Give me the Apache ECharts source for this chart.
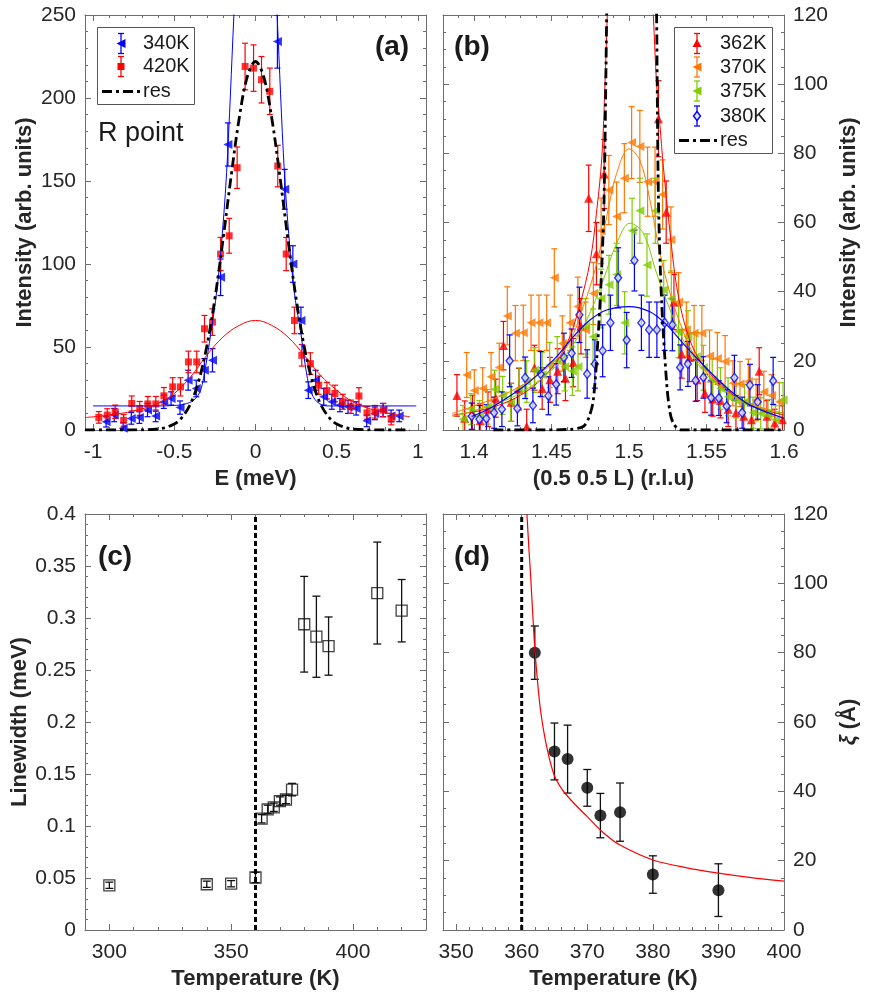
<!DOCTYPE html>
<html><head><meta charset="utf-8">
<script src="https://cdn.jsdelivr.net/npm/echarts@6/dist/echarts.min.js"></script>
<style>html,body{margin:0;padding:0;background:#fff}#c{width:869px;height:1000px}</style>
</head><body><div id="c"></div><script>
// ---------------- Panel (a): R point energy scans ----------------
const aRedE = [-0.965,-0.913,-0.864,-0.812,-0.762,-0.713,-0.663,-0.614,-0.564,-0.51,-0.462,-0.413,-0.362,-0.314,-0.265,-0.215,-0.162,-0.113,-0.064,-0.012,0.037,0.088,0.137,0.189,0.24,0.285,0.338,0.389,0.44,0.489,0.538,0.588,0.637,0.687,0.736,0.787,0.836];
const aRedI = [7.6,9,11,5.8,16,13,15.7,15.7,20.6,26,26,41,41,61,65,106,117,158,219,218,211,204,159,106,66,45,40,27,23.7,22,17,14,20.5,10.3,11,12,6.6];
const aRedErr = [3.5,3.8,4,3.5,4.5,4.2,4.5,4.5,5,5.5,5.5,6.5,6.5,8,8,10,10.5,12.5,14,14,14,14,12.5,10,8,6.5,6.5,5.5,5,5,4.5,4,5,3.8,3.8,4,3.5];
const aBlueE = [-0.92,-0.87,-0.815,-0.765,-0.715,-0.665,-0.615,-0.565,-0.52,-0.465,-0.415,-0.365,-0.315,-0.265,-0.215,-0.17,-0.12,-0.07,-0.02,0.03,0.085,0.135,0.18,0.23,0.28,0.325,0.37,0.42,0.47,0.52,0.57,0.62,0.685,0.735,0.785,0.835,0.885];
const aBlueI = [5,9,1,7,7.5,12,8.5,17,19,13.5,30,25,36,42,92,172,300,380,420,410,360,234,145,100,66,24,30,20,17,15,14,13,5.5,10,12,8.5,8.5];
const aBlueErr = [3.2,4,3.5,3.5,3.5,4,3.5,4,4,4,6,5,7,7,11,13,16,18,19,19,18,16,12,11,8,5,6,5,4.5,4,4,4,3.5,3.8,4,3.5,3.5];
const aFitRedE = [-1.05,-0.9,-0.75,-0.6,-0.5,-0.4,-0.3,-0.2,-0.1,0,0.1,0.2,0.3,0.4,0.5,0.6,0.75,0.95];
const aFitRedI = [7.5,9,11.5,16,22,32,45,56,63,66,63,56,45,33,24,17,11.5,8];
const aFitBlueE = [-1.0,-0.6,-0.5,-0.44,-0.38,-0.338,-0.308,-0.277,-0.246,-0.215,-0.178,-0.133,-0.1,-0.05,0,0.05,0.1,0.133,0.178,0.215,0.246,0.277,0.308,0.338,0.379,0.44,0.6,0.99];
const aFitBlueI = [14.5,14.5,14.8,15.5,18,24,38,57,78,106,155,250,320,390,410,390,320,250,155,106,78,60,38,24,17,14.5,14.5,14.5];
const aResE = [-1.05,-0.8,-0.6,-0.5,-0.45,-0.4,-0.35,-0.3,-0.25,-0.2,-0.15,-0.1,-0.05,0,0.05,0.1,0.15,0.2,0.25,0.3,0.35,0.4,0.45,0.5,0.6,0.8,0.95];
const aResI = [0,0,0.6,3.6,7.9,15.8,29.4,50.3,79.2,114.7,153,188,213,222,213,188,153,114.7,79.2,50.3,29.4,15.8,7.9,3.6,0.6,0,0];

// ---------------- Panel (b): L scans ----------------
const b362L = [1.389,1.394,1.399,1.404,1.409,1.414,1.419,1.424,1.429,1.434,1.439,1.444,1.449,1.454,1.459,1.464,1.469,1.474,1.479,1.484,1.489,1.494,1.499,1.504,1.509,1.514,1.519,1.524,1.529,1.534,1.539,1.544,1.549,1.554,1.559,1.564,1.569,1.574,1.579,1.584,1.589,1.594,1.599];
const b362I = [10,3.4,5,2.7,6,9.2,24.4,8,11.8,1,18,12,14.5,17,15,19.5,30,67,51,74,145,160,170,165,150,140,90,63,37,22,21,14.5,10.6,9,8.5,6,5,4,3,17,4,2,3];
const b362Err = [6,5,5,5,5,5.5,7,5.5,6,5,6.5,6,6.5,6.5,6.5,7,8,9.6,9,10,12,12,12,12,12,11,11,9,8,7,7,6,5.5,5,5,5,5,4.5,4.5,6.8,4.5,4,4];
const b370L = [1.3953,1.4002,1.4056,1.411,1.4163,1.4215,1.4267,1.4318,1.4368,1.4419,1.4469,1.4518,1.457,1.462,1.467,1.472,1.477,1.482,1.487,1.492,1.497,1.5017,1.507,1.512,1.5168,1.5217,1.527,1.532,1.537,1.542,1.547,1.552,1.557,1.562,1.567,1.5716,1.577,1.582,1.587,1.592,1.597];
const b370I = [15.9,11.4,12,15.4,18.1,33,28,28.1,31,31,31,44,25,31,35.7,29,39.5,57.6,69.4,61.7,72.8,83.1,82,71.8,71.8,68.1,55,37,29,28,28,21.4,20.7,19.8,13.5,13.3,14,8.7,11,10,8.2];
const b370Err = [6.5,6,6,7,7,8.4,8,8,8,8,8,8.4,8,8,8.5,8,9,9.5,10,10,10,10.4,10.4,10,10,10,9.5,8.5,8,8,8,7.5,7.5,7.5,6.5,6.5,6.5,6,6,6,5.5];
const b375L = [1.3929,1.398,1.4035,1.4086,1.4133,1.4185,1.4237,1.429,1.434,1.4392,1.444,1.4488,1.4537,1.4585,1.4635,1.4671,1.472,1.4768,1.482,1.4871,1.492,1.4972,1.502,1.507,1.5116,1.517,1.5224,1.5273,1.532,1.538,1.5434,1.548,1.5537,1.559,1.5639,1.569,1.5746,1.58,1.585,1.5897,1.5945,1.5994];
const b375I = [3.1,6,4,6.7,11.8,10,8,12,14,17.3,16,18.8,20,18.3,17,18.3,30,27,38,42,45,31,57.6,63.4,47.7,63.4,40.5,38,28.4,27,21.2,18,14.5,12,9.6,8.5,8.2,5,4.8,4.3,3,8.7];
const b375Err = [4,4.5,4.5,5,5.5,5.5,5.5,6,6,6.5,6.5,6.5,7,7,7,7,8,8,8.5,8.5,9,9,9.4,9.4,9,9.4,8.5,8,7.5,7.5,7,6.5,6,6,5.5,5,5,4.5,4.5,4.5,4,5];
const b380L = [1.3985,1.4035,1.408,1.413,1.418,1.423,1.428,1.433,1.438,1.443,1.448,1.453,1.458,1.463,1.468,1.473,1.478,1.483,1.488,1.493,1.4985,1.5035,1.508,1.513,1.518,1.523,1.528,1.533,1.538,1.543,1.548,1.553,1.558,1.563,1.568,1.573,1.578,1.583,1.593];
const b380I = [4.0,3.1,3.3,5.0,6.0,20,6.2,15.1,7.1,16.2,9.9,13.2,21,22.2,33.3,16.2,19.1,22.9,31,44,26,49,31,29,29,31,30.4,18.1,19.1,14.3,15.2,9.3,9.2,6.9,15.1,5.0,13.0,8.1,14.2];
const b380Err = [3.8,4,4,4.5,5,7.5,5,6,5,6.5,5.5,6,7,7,8,7,7,7.5,8,8.7,8,8.8,8,8,8,8,7.5,6.5,6.5,6,6,5,5,4.8,6.5,4.5,6,5,6.8];
const bFit362L = [1.386,1.41,1.432,1.449,1.46,1.468,1.475,1.479,1.4825,1.4845,1.486,1.49,1.5,1.51,1.5157,1.5178,1.52,1.5222,1.5265,1.5308,1.537,1.5458,1.5609,1.576,1.6];
const bFit362I = [4.3,6.3,10.6,17.3,25,35.7,49,62.7,79,100,120,170,220,170,120,100,88,76,57,41.4,29,20,12.5,7.7,4.3];
const bFit370L = [1.386,1.421,1.4426,1.4598,1.4705,1.4791,1.4856,1.492,1.5,1.507,1.5135,1.52,1.5265,1.533,1.5415,1.5544,1.5716,1.6];
const bFit370I = [4.8,10.6,16.4,24,35.7,48,61.7,74.2,81.3,78,66.5,51,39.5,30.8,22,14.5,8.7,4.8];
const bFit375L = [1.386,1.421,1.4426,1.4598,1.4727,1.4834,1.492,1.5006,1.5092,1.5178,1.5265,1.535,1.5458,1.5609,1.5824,1.6];
const bFit375I = [3.9,8.7,14.5,22,31.8,43.4,54,59.8,56.9,45.3,34.7,26,18.3,11.6,6.7,4.8];
const bFit380L = [1.3985,1.4103,1.421,1.4318,1.4426,1.4533,1.4641,1.4748,1.4856,1.5,1.5135,1.5243,1.535,1.5458,1.5566,1.5673,1.578,1.6];
const bFit380I = [3.9,6.3,9.2,12.5,16.6,21.2,27,31.8,34.7,35.7,34.2,30.4,25,19.8,14.9,10.6,7.2,3.4];
const bResL = [1.4125,1.44,1.462,1.4705,1.474,1.477,1.4802,1.4824,1.4839,1.4856,1.488,1.4925,1.5017,1.511,1.5155,1.5178,1.519,1.521,1.5243,1.5265,1.5286,1.533,1.56,1.6];
const bResI = [0,0,0.2,1,3.5,8.7,28,47,66.5,120,200,380,460,380,200,120,66.5,37.6,13.5,5,2,0,0,0];

// ---------------- Panel (c): linewidth ----------------
const cT = [300,340,350,360,362.5,365,367.5,370,372.5,375,380,385,390,410,420];
const cW = [0.043,0.044,0.0445,0.0505,0.107,0.116,0.118,0.124,0.1255,0.135,0.294,0.282,0.273,0.324,0.307];
const cErr = [0.003,0.003,0.003,0.005,0.004,0.004,0.004,0.004,0.004,0.006,0.046,0.039,0.028,0.049,0.030];
const cTc = [[360,0],[360,0.4]];

// ---------------- Panel (d): correlation length ----------------
const dT = [362,365,367,370,372,375,380,390];
const dXi = [80,51.5,49.3,41,33,34,16,11.5];
const dErr = [7.7,8.2,9.8,5.3,6.4,8.4,5.4,7.6];
const dFitT = [360.8,361.1,361.4,361.9,362.4,362.9,363.8,364.9,366,367.5,370,372.5,375,380,385,390,395,400];
const dFitXi = [120,110,101,84,72,63,53,45,41,37.5,32.7,28,24.5,20.2,18,16.4,15.1,14.1];
const dTc = [[360,0],[360,120]];

// ---------------- styling ----------------
const AX = '#6e6e6e', TXT = '#262626';
const FONT = '"Liberation Sans", Arial, Helvetica, sans-serif';
const BLUE = '#0000ff', RED = '#ff0000', ORANGE = '#ff7700', GREEN = '#80cc00';
const LEFT_TRI = 'path://M0,5L10,0L10,10Z';

const grids = [
  {left:85, top:15, width:341, height:415},
  {left:443, top:15, width:341, height:415},
  {left:85, top:514, width:341, height:416},
  {left:443, top:514, width:341, height:416}
];

function axisCommon(minor){
  return {
    axisLine:{show:true,onZero:false,lineStyle:{color:AX,width:1}},
    axisTick:{show:true,inside:true,length:6,lineStyle:{color:AX,width:1}},
    minorTick:{show:true,splitNumber:minor,length:3,lineStyle:{color:AX,width:1}},
    splitLine:{show:false}, minorSplitLine:{show:false}
  };
}
function mkAxis(g, pos, o, main, isY){
  const a = Object.assign({type:'value', gridIndex:g, position:pos, min:o.min, max:o.max}, axisCommon(o.minor));
  if (o.interval != null) a.interval = o.interval; else a.splitNumber = o.split;
  if (main) {
    a.axisLabel = {show:true, margin:o.margin, fontSize:21, color:TXT, fontFamily:FONT,
      showMinLabel:o.showMin, showMaxLabel:o.showMax};
    a.name = o.name; a.nameLocation = 'middle'; a.nameGap = o.gap;
    if (isY) a.nameRotate = 90;
    a.nameTextStyle = {fontSize:22, fontWeight:'bold', color:TXT, fontFamily:FONT, rich:o.rich};
  } else {
    a.axisLabel = {show:false};
  }
  return a;
}
const xDefs = [
  {min:-1.05, max:1.05, split:4, minor:5, showMin:false, showMax:false, margin:12, name:'E (meV)', gap:38},
  {min:1.38, max:1.6, split:4, minor:5, showMin:false, showMax:true, margin:12, name:'(0.5 0.5 L) (r.l.u)', gap:38},
  {min:290, max:430, split:3, minor:5, showMin:false, showMax:false, margin:12, name:'Temperature (K)', gap:38},
  {min:348, max:400, split:5, minor:5, showMin:false, showMax:true, margin:12, name:'Temperature (K)', gap:38}
];
const yDefs = [
  {min:0, max:250, interval:50, minor:5, margin:9, name:'Intensity (arb. units)', gap:49, side:'left'},
  {min:0, max:120, interval:20, minor:4, margin:9, name:'Intensity (arb. units)', gap:54, side:'right'},
  {min:0, max:0.4, interval:0.05, minor:5, margin:9, name:'Linewidth (meV)', gap:49, side:'left'},
  {min:0, max:120, interval:20, minor:4, margin:9, name:'{i|ξ} (Å)', gap:54, side:'right',
   rich:{i:{fontStyle:'italic', fontWeight:'bold', fontSize:22, fontFamily:FONT, color:TXT}}}
];
const xAxes = [], yAxes = [];
for (let g = 0; g < 4; g++) {
  xAxes.push(mkAxis(g, 'bottom', xDefs[g], true, false));
  xAxes.push(mkAxis(g, 'top', xDefs[g], false, false));
  const opp = yDefs[g].side === 'left' ? 'right' : 'left';
  yAxes.push(mkAxis(g, yDefs[g].side, yDefs[g], true, true));
  yAxes.push(mkAxis(g, opp, yDefs[g], false, true));
}

function zip(xs, ys){ return xs.map((x,i)=>[x, ys[i]]); }
function zip3(xs, ys, es){ return xs.map((x,i)=>[x, ys[i], es[i]]); }

function errSeries(g, name, data, color, cap, lw){
  return {
    type:'custom', name, xAxisIndex:2*g, yAxisIndex:2*g, clip:true, silent:true,
    data,
    renderItem: function(params, api){
      const x = api.value(0), y = api.value(1), e = api.value(2);
      const p1 = api.coord([x, y + e]), p2 = api.coord([x, y - e]);
      const h = cap / 2, st = {stroke:color, lineWidth:lw};
      return {type:'group', children:[
        {type:'line', shape:{x1:p1[0], y1:p1[1], x2:p2[0], y2:p2[1]}, style:st},
        {type:'line', shape:{x1:p1[0]-h, y1:p1[1], x2:p1[0]+h, y2:p1[1]}, style:st},
        {type:'line', shape:{x1:p2[0]-h, y1:p2[1], x2:p2[0]+h, y2:p2[1]}, style:st}
      ]};
    },
    z:2
  };
}
function scat(g, name, data, symbol, size, itemStyle, rot){
  return {type:'scatter', name, xAxisIndex:2*g, yAxisIndex:2*g, clip:true, data,
    symbol, symbolSize:size, symbolKeepAspect:true, symbolRotate:rot||0, itemStyle, z:3, silent:true};
}
function line(g, name, data, color, width, type, smooth){
  return {type:'line', name, xAxisIndex:2*g, yAxisIndex:2*g, clip:true, data,
    showSymbol:false, symbol:'none', smooth:smooth, silent:true,
    lineStyle:{color, width, type:type||'solid'}, z:4};
}
const DASHDOT = [10,4,3,4];

const series = [
  // (a)
  errSeries(0, '340K err', zip3(aBlueE, aBlueI, aBlueErr), BLUE, 6, 1.2),
  scat(0, '340K', zip(aBlueE, aBlueI), LEFT_TRI, 9, {color:BLUE}),
  line(0, '340K fit', zip(aFitBlueE, aFitBlueI), BLUE, 1, 'solid', 0.35),
  errSeries(0, '420K err', zip3(aRedE, aRedI, aRedErr), RED, 6, 1.2),
  scat(0, '420K', zip(aRedE, aRedI), 'rect', 7, {color:RED}),
  line(0, '420K fit', zip(aFitRedE, aFitRedI), RED, 1, 'solid', 0.4),
  line(0, 'res', zip(aResE, aResI), '#000', 2.8, DASHDOT, 0.35),
  // (b)
  errSeries(1, '362K err', zip3(b362L, b362I, b362Err), RED, 6, 1.2),
  scat(1, '362K', zip(b362L, b362I), 'triangle', 9, {color:RED}),
  line(1, '362K fit', zip(bFit362L, bFit362I), RED, 1, 'solid', 0.35),
  errSeries(1, '370K err', zip3(b370L, b370I, b370Err), ORANGE, 6, 1.2),
  scat(1, '370K', zip(b370L, b370I), LEFT_TRI, 9, {color:ORANGE}),
  line(1, '370K fit', zip(bFit370L, bFit370I), ORANGE, 1, 'solid', 0.35),
  errSeries(1, '375K err', zip3(b375L, b375I, b375Err), GREEN, 6, 1.2),
  scat(1, '375K', zip(b375L, b375I), LEFT_TRI, 9, {color:GREEN}),
  line(1, '375K fit', zip(bFit375L, bFit375I), GREEN, 1, 'solid', 0.35),
  errSeries(1, '380K err', zip3(b380L, b380I, b380Err), BLUE, 6, 1.2),
  scat(1, '380K', zip(b380L, b380I), 'diamond', [7,9], {color:'#dfe6ff', borderColor:BLUE, borderWidth:1.4}),
  line(1, '380K fit', zip(bFit380L, bFit380I), BLUE, 1.2, 'solid', 0.35),
  line(1, 'res', zip(bResL, bResI), '#000', 2.8, DASHDOT, 0.3),
  // (c)
  line(2, 'Tc', cTc, '#000', 3, [5,3], false),
  errSeries(2, 'linewidth err', zip3(cT, cW, cErr), '#111', 8, 1.3),
  scat(2, 'linewidth', zip(cT, cW), 'rect', 11, {color:'rgba(0,0,0,0)', borderColor:'#111', borderWidth:1.3}),
  // (d)
  line(3, 'Tc', dTc, '#000', 3, [5,3], false),
  line(3, 'xi fit', zip(dFitT, dFitXi), RED, 1.2, 'solid', 0.3),
  errSeries(3, 'xi err', zip3(dT, dXi, dErr), '#111', 8, 1.3),
  scat(3, 'xi', zip(dT, dXi), 'circle', 12, {color:'#000'})
];

// ---------------- legends & panel tags (graphic) ----------------
function txt(x, y, s, size, bold, align){
  return {type:'text', x, y, silent:true, z:100, style:{text:s, fill:'#1a1a1a',
    font:(bold?'bold ':'') + size + 'px ' + FONT, fontSize:size, fontWeight:bold?'bold':'normal', fontFamily:FONT,
    align:align||'left', textAlign:align||'left', verticalAlign:'middle', textVerticalAlign:'middle'}};
}
function ebGlyph(cx, cy, half, cap, color){
  const st = {stroke:color, lineWidth:1.3};
  return [
    {type:'line', z:100, shape:{x1:cx, y1:cy-half, x2:cx, y2:cy+half}, style:st},
    {type:'line', z:100, shape:{x1:cx-cap, y1:cy-half, x2:cx+cap, y2:cy-half}, style:st},
    {type:'line', z:100, shape:{x1:cx-cap, y1:cy+half, x2:cx+cap, y2:cy+half}, style:st}
  ];
}
function leftTri(cx, cy, r, color){
  return {type:'polygon', z:101, shape:{points:[[cx-r,cy],[cx+r,cy-r],[cx+r,cy+r]]}, style:{fill:color}};
}
function upTri(cx, cy, r, color){
  return {type:'polygon', z:101, shape:{points:[[cx,cy-r],[cx+r,cy+r*0.8],[cx-r,cy+r*0.8]]}, style:{fill:color}};
}
function sq(cx, cy, r, color){
  return {type:'rect', z:101, shape:{x:cx-r, y:cy-r, width:2*r, height:2*r}, style:{fill:color}};
}
function dia(cx, cy, color){
  return {type:'polygon', z:101, shape:{points:[[cx,cy-4.5],[cx+3.5,cy],[cx,cy+4.5],[cx-3.5,cy]]}, style:{fill:'#dfe6ff', stroke:color, lineWidth:1.4}};
}
function resGlyph(x1, x2, y){
  return {type:'line', z:100, shape:{x1, y1:y, x2, y2:y}, style:{stroke:'#000', lineWidth:2.8, lineDash:DASHDOT}};
}
const graphics = [];
// legend (a)
graphics.push({type:'rect', z:99, shape:{x:97.5, y:27.5, width:97, height:77}, style:{fill:'#fff', stroke:'#555', lineWidth:1}});
graphics.push(...ebGlyph(121, 43.5, 10, 3, BLUE), leftTri(121, 43.5, 4.5, BLUE), txt(143, 43.5, '340K', 20));
graphics.push(...ebGlyph(121, 66.5, 10, 3, RED), sq(121, 66.5, 3.5, RED), txt(143, 66.5, '420K', 20));
graphics.push(resGlyph(102, 140, 91.5), txt(143, 91.5, 'res', 20));
graphics.push(txt(98, 134, 'R point', 27));
graphics.push(txt(392, 47, '(a)', 28, true, 'center'));
// legend (b)
graphics.push({type:'rect', z:99, shape:{x:674.5, y:27.5, width:98, height:126}, style:{fill:'#fff', stroke:'#555', lineWidth:1}});
graphics.push(...ebGlyph(697, 43.5, 10, 3, RED), upTri(697, 43.5, 4.5, RED), txt(720, 43.5, '362K', 20));
graphics.push(...ebGlyph(697, 67, 10, 3, ORANGE), leftTri(697, 67, 4.5, ORANGE), txt(720, 67, '370K', 20));
graphics.push(...ebGlyph(697, 91, 10, 3, GREEN), leftTri(697, 91, 4.5, GREEN), txt(720, 91, '375K', 20));
graphics.push(...ebGlyph(697, 116, 10, 3, BLUE), dia(697, 116, BLUE), txt(720, 116, '380K', 20));
graphics.push(resGlyph(679, 717, 140.5), txt(720, 140.5, 'res', 20));
graphics.push(txt(472, 47, '(b)', 28, true, 'center'));
graphics.push(txt(115, 557, '(c)', 28, true, 'center'));
graphics.push(txt(472, 557, '(d)', 28, true, 'center'));

const chart = echarts.init(document.getElementById('c'), null, {renderer:'canvas'});
chart.setOption({
  animation:false,
  backgroundColor:'#fff',
  textStyle:{fontFamily:FONT},
  grid:grids,
  xAxis:xAxes,
  yAxis:yAxes,
  series,
  graphic:{elements:graphics}
});
</script></body></html>
